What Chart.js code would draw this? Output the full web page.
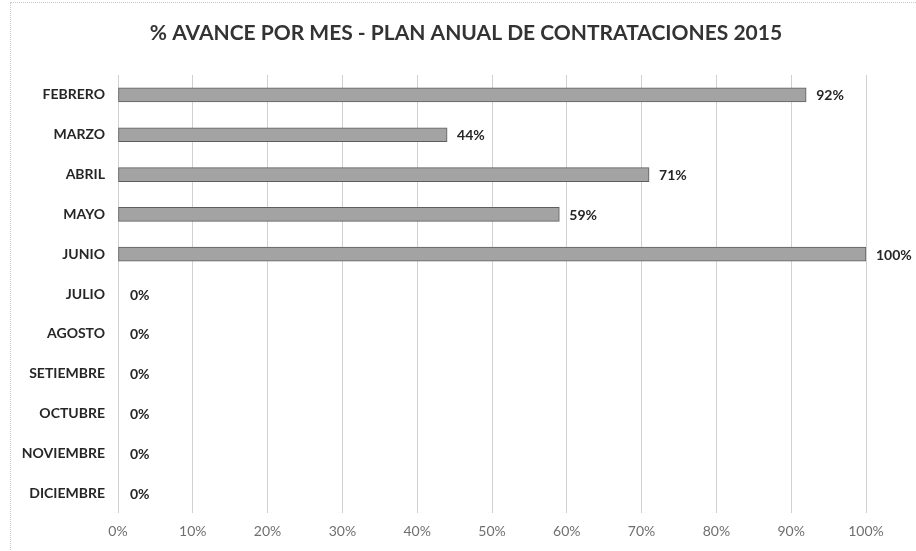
<!DOCTYPE html>
<html>
<head>
<meta charset="utf-8">
<script src="https://cdn.jsdelivr.net/npm/chart.js@4/dist/chart.umd.min.js"></script>
<style>
  html, body { margin: 0; padding: 0; background: #fff; }
  #wrap { position: relative; width: 916px; height: 551px; }
  #frame { position: absolute; left: 10px; top: 2px; width: 920px; height: 560px; border-left: 1px dotted #c8c8c8; border-top: 1px dotted #c8c8c8; box-sizing: border-box; pointer-events: none; }
</style>
</head>
<body>
<div id="wrap">
  <canvas id="c" width="916" height="551"></canvas>
  <div id="frame"></div>
</div>
<script>
const chartTitle = '% AVANCE POR MES - PLAN ANUAL DE CONTRATACIONES 2015';
const months = ['FEBRERO', 'MARZO', 'ABRIL', 'MAYO', 'JUNIO', 'JULIO', 'AGOSTO', 'SETIEMBRE', 'OCTUBRE', 'NOVIEMBRE', 'DICIEMBRE'];
const progress = [92, 44, 71, 59, 100, 0, 0, 0, 0, 0, 0];
const xTicks = [0, 10, 20, 30, 40, 50, 60, 70, 80, 90, 100];

const FONT = 'Lato, "Open Sans", sans-serif';

const titleAndLabels = {
  id: 'titleAndLabels',
  afterDraw(chart) {
    const ctx = chart.ctx;
    ctx.save();
    ctx.font = 'bold 21px ' + FONT;
    ctx.fillStyle = '#333333';
    ctx.textAlign = 'center';
    ctx.textBaseline = 'middle';
    ctx.fillText(chartTitle, 466, 33);
    ctx.restore();
  },
  afterDatasetsDraw(chart) {
    const ctx = chart.ctx;
    const meta = chart.getDatasetMeta(0);
    ctx.save();
    ctx.font = 'bold 14px ' + FONT;
    ctx.fillStyle = '#262626';
    ctx.textAlign = 'left';
    ctx.textBaseline = 'middle';
    meta.data.forEach((bar, i) => {
      const v = chart.data.datasets[0].data[i];
      ctx.fillText(v + '%', bar.x + (v === 0 ? 12 : 10), bar.y + 1);
    });
    ctx.restore();
  }
};

new Chart(document.getElementById('c'), {
  type: 'bar',
  data: {
    labels: months,
    datasets: [{
      data: progress,
      backgroundColor: '#a3a3a3',
      borderColor: '#5e5e5e',
      borderWidth: 1,
      borderSkipped: false,
      barThickness: 14
    }]
  },
  options: {
    indexAxis: 'y',
    responsive: false,
    animation: false,
    layout: { padding: { left: 0, right: 50, top: 75, bottom: 0 } },
    plugins: {
      legend: { display: false },
      tooltip: { enabled: false },
      title: { display: false }
    },
    scales: {
      x: {
        min: 0,
        max: 100,
        afterBuildTicks(scale) { scale.ticks = xTicks.map(v => ({ value: v })); },
        afterFit(scale) { scale.height = 38; },
        grid: { color: '#d0d0d0', drawTicks: false },
        border: { display: false },
        ticks: {
          padding: 10,
          color: '#6f6f6f',
          font: { family: FONT, size: 14 },
          callback: v => v + '%'
        }
      },
      y: {
        afterFit(scale) { scale.width = 118; },
        grid: { display: false, drawTicks: false },
        border: { display: false },
        ticks: {
          padding: 13,
          color: '#262626',
          font: { family: FONT, size: 14, weight: 'bold' }
        }
      }
    }
  },
  plugins: [titleAndLabels]
});
</script>
</body>
</html>
